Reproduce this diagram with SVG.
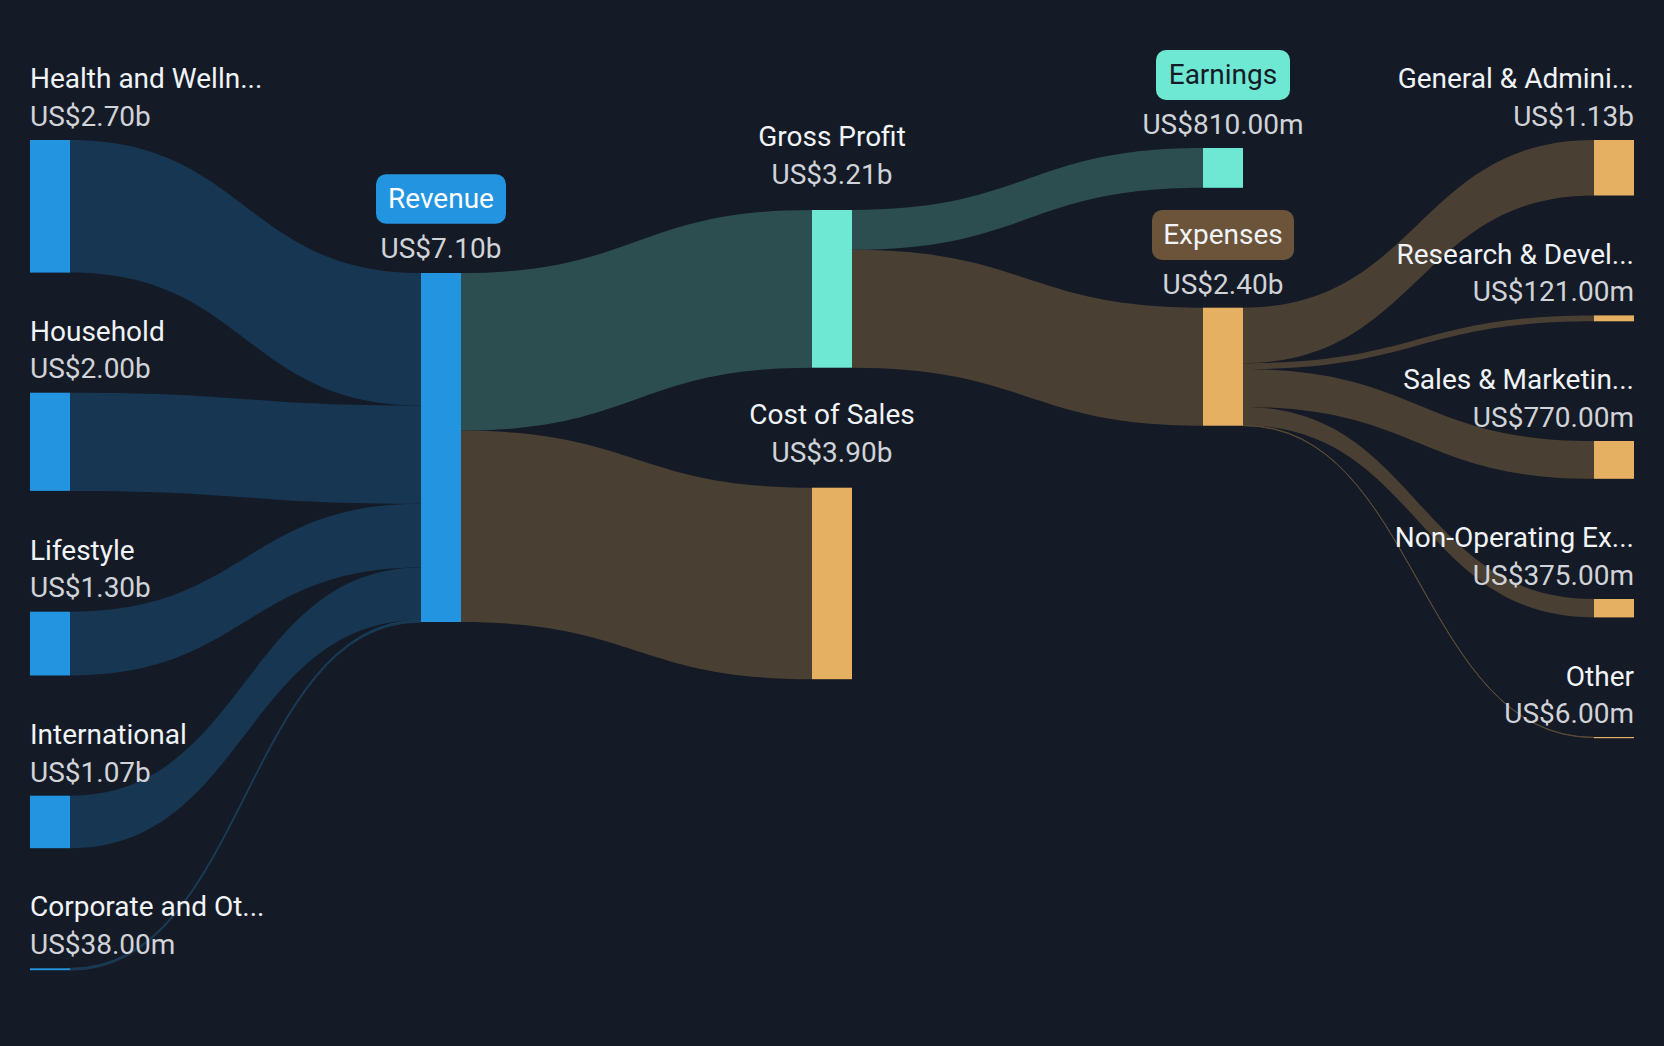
<svg xmlns="http://www.w3.org/2000/svg" width="1664" height="1046" viewBox="0 0 1664 1046">
<style>
.lbl{font-family:Roboto,"Liberation Sans",sans-serif;font-size:28px;fill:#F0F3F7}
.val{font-family:Roboto,"Liberation Sans",sans-serif;font-size:28px;fill:#D0D3D8}
.mid{text-anchor:middle}
.end{text-anchor:end}
.fb{fill:#173651}
.ft{fill:#2C4E51}
.fo{fill:#4A3F33}
.nb{fill:#2394E0}
.nt{fill:#6EE7D3}
.no{fill:#E5B062}
</style>
<rect x="0" y="0" width="1664" height="1046" fill="#151B26"/>
<g id="connectors">
<path class="fb" d="M70,140 C245.5,140 245.5,273 421,273 L421,405.6 C245.5,405.6 245.5,272.6 70,272.6 Z"/>
<path class="fb" d="M70,392.7 C245.5,392.7 245.5,405.6 421,405.6 L421,503.8 C245.5,503.8 245.5,490.9 70,490.9 Z"/>
<path class="fb" d="M70,611.7 C245.5,611.7 245.5,503.8 421,503.8 L421,567.6 C245.5,567.6 245.5,675.5 70,675.5 Z"/>
<path class="fb" d="M70,795.7 C245.5,795.7 245.5,567.6 421,567.6 L421,620.1 C245.5,620.1 245.5,848.2 70,848.2 Z"/>
<path class="fb" d="M70,968.3 C245.5,968.3 245.5,620.1 421,620.1 L421,622 C245.5,622 245.5,970.2 70,970.2 Z" stroke="#1B4260" stroke-width="0.8"/>
<path class="ft" d="M461,273 C636.5,273 636.5,210 812,210 L812,367.7 C636.5,367.7 636.5,430.6 461,430.6 Z"/>
<path class="fo" d="M461,430.6 C636.5,430.6 636.5,487.7 812,487.7 L812,679.2 C636.5,679.2 636.5,622.1 461,622.1 Z"/>
<path class="ft" d="M852,210 C1027.5,210 1027.5,148 1203,148 L1203,187.8 C1027.5,187.8 1027.5,249.8 852,249.8 Z"/>
<path class="fo" d="M852,249.8 C1027.5,249.8 1027.5,307.7 1203,307.7 L1203,425.7 C1027.5,425.7 1027.5,367.7 852,367.7 Z"/>
<path class="fo" d="M1243,307.7 C1418.5,307.7 1418.5,140 1594,140 L1594,195.5 C1418.5,195.5 1418.5,363.2 1243,363.2 Z"/>
<path class="fo" d="M1243,363.2 C1418.5,363.2 1418.5,315.4 1594,315.4 L1594,321.3 C1418.5,321.3 1418.5,369.1 1243,369.1 Z"/>
<path class="fo" d="M1243,369.1 C1418.5,369.1 1418.5,441 1594,441 L1594,478.8 C1418.5,478.8 1418.5,406.9 1243,406.9 Z"/>
<path class="fo" d="M1243,406.9 C1418.5,406.9 1418.5,599 1594,599 L1594,617.4 C1418.5,617.4 1418.5,425.3 1243,425.3 Z"/>
<path class="fo" d="M1243,425.3 C1418.5,425.3 1418.5,737.3 1594,737.3 L1594,737.6 C1418.5,737.6 1418.5,425.6 1243,425.6 Z" stroke="#5A4A36" stroke-width="1"/>
</g>
<g id="health">
<rect class="nb" x="30" y="140" width="40" height="132.6"/>
<text class="lbl" x="30" y="88">Health and Welln...</text>
<text class="val" x="30" y="126">US$2.70b</text>
</g>
<g id="household">
<rect class="nb" x="30" y="392.7" width="40" height="98.2"/>
<text class="lbl" x="30" y="341">Household</text>
<text class="val" x="30" y="378">US$2.00b</text>
</g>
<g id="lifestyle">
<rect class="nb" x="30" y="611.7" width="40" height="63.8"/>
<text class="lbl" x="30" y="559.5">Lifestyle</text>
<text class="val" x="30" y="597">US$1.30b</text>
</g>
<g id="international">
<rect class="nb" x="30" y="795.7" width="40" height="52.5"/>
<text class="lbl" x="30" y="744">International</text>
<text class="val" x="30" y="781.5">US$1.07b</text>
</g>
<g id="corporate">
<rect class="nb" x="30" y="968.3" width="40" height="1.9"/>
<text class="lbl" x="30" y="916">Corporate and Ot...</text>
<text class="val" x="30" y="953.5">US$38.00m</text>
</g>
<g id="revenue">
<rect class="nb" x="421" y="273" width="40" height="349"/>
<rect x="376" y="174.3" width="130" height="49.4" rx="10" fill="#2394E0"/>
<text class="lbl mid" x="441" y="208" style="fill:#FFFFFF">Revenue</text>
<text class="val mid" x="441" y="258">US$7.10b</text>
</g>
<g id="gross-profit">
<rect class="nt" x="812" y="210" width="40" height="157.7"/>
<text class="lbl mid" x="832" y="146">Gross Profit</text>
<text class="val mid" x="832" y="183.5">US$3.21b</text>
</g>
<g id="cost-of-sales">
<rect class="no" x="812" y="487.7" width="40" height="191.5"/>
<text class="lbl mid" x="832" y="423.5">Cost of Sales</text>
<text class="val mid" x="832" y="461.5">US$3.90b</text>
</g>
<g id="earnings">
<rect class="nt" x="1203" y="148" width="40" height="39.8"/>
<rect x="1156" y="50" width="134" height="50" rx="10" fill="#6EE7D3"/>
<text class="lbl mid" x="1223" y="83.5" style="fill:#151B26">Earnings</text>
<text class="val mid" x="1223" y="133.5">US$810.00m</text>
</g>
<g id="expenses">
<rect class="no" x="1203" y="307.7" width="40" height="118"/>
<rect x="1152" y="210" width="142" height="50" rx="10" fill="#6B5439"/>
<text class="lbl mid" x="1223" y="243.5">Expenses</text>
<text class="val mid" x="1223" y="294">US$2.40b</text>
</g>
<g id="general-admin">
<rect class="no" x="1594" y="140" width="40" height="55.5"/>
<text class="lbl end" x="1634" y="88">General &amp; Admini...</text>
<text class="val end" x="1634" y="126">US$1.13b</text>
</g>
<g id="research-dev">
<rect class="no" x="1594" y="315.4" width="40" height="5.9"/>
<text class="lbl end" x="1634" y="263.5">Research &amp; Devel...</text>
<text class="val end" x="1634" y="301">US$121.00m</text>
</g>
<g id="sales-marketing">
<rect class="no" x="1594" y="441" width="40" height="37.8"/>
<text class="lbl end" x="1634" y="389">Sales &amp; Marketin...</text>
<text class="val end" x="1634" y="427">US$770.00m</text>
</g>
<g id="non-operating">
<rect class="no" x="1594" y="599" width="40" height="18.4"/>
<text class="lbl end" x="1634" y="547">Non-Operating Ex...</text>
<text class="val end" x="1634" y="585">US$375.00m</text>
</g>
<g id="other">
<rect class="no" x="1594" y="737" width="40" height="1.2"/>
<text class="lbl end" x="1634" y="685.5">Other</text>
<text class="val end" x="1634" y="723">US$6.00m</text>
</g>
</svg>
